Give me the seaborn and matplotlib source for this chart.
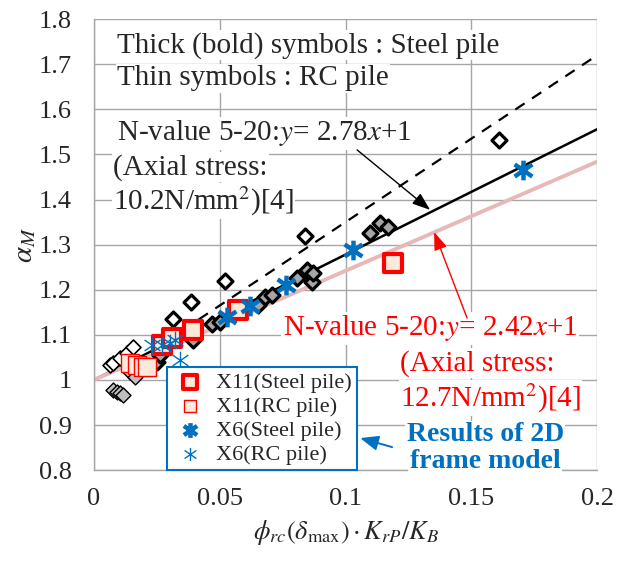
import matplotlib
matplotlib.use("Agg")
import matplotlib.pyplot as plt
from matplotlib.path import Path
import numpy as np
import seaborn as sns

# ---- test data (diamonds): thick edge = steel pile, thin edge = RC pile ----
steel_open_x = [0.0313, 0.0385, 0.0520, 0.0839, 0.1610]
steel_open_y = [1.136, 1.172, 1.219, 1.319, 1.532]

steel_grey_x = [0.0249, 0.0262, 0.0395, 0.0468, 0.0500, 0.0653, 0.0680, 0.0707,
                0.0806, 0.0846, 0.0866, 0.0872, 0.1097, 0.1137, 0.1167]
steel_grey_y = [1.040, 1.055, 1.088, 1.125, 1.129, 1.166, 1.184, 1.188,
                1.227, 1.243, 1.218, 1.236, 1.325, 1.349, 1.340]

rc_open_x = [0.0065, 0.0077, 0.0105, 0.0130, 0.0156]
rc_open_y = [1.033, 1.037, 1.048, 1.060, 1.073]

rc_grey_x = [0.0077, 0.0090, 0.0103, 0.0117, 0.0143, 0.0163]
rc_grey_y = [0.977, 0.974, 0.971, 0.967, 1.018, 1.007]

# ---- 2D frame model results ----
x11_steel_x = [0.0270, 0.0310, 0.0395, 0.0574, 0.1190]
x11_steel_y = [1.077, 1.094, 1.110, 1.155, 1.260]

x11_rc_x = [0.0143, 0.0170, 0.0196, 0.0210]
x11_rc_y = [1.037, 1.033, 1.029, 1.029]

x6_steel_x = [0.0530, 0.0620, 0.0763, 0.1031, 0.1707]
x6_steel_y = [1.140, 1.163, 1.210, 1.288, 1.465]

x6_rc_x = [0.0229, 0.0269, 0.0302, 0.0322, 0.0342]
x6_rc_y = [1.077, 1.077, 1.081, 1.088, 1.044]

# ---- straight lines y = slope*x + intercept over [x_start, x_end] ----
line_slopes = [3.70, 2.78, 2.42]
line_intercepts = [0.98, 1.0, 1.0]
line_x_start = [0.035, 0.0, 0.0]
line_x_end = [0.2, 0.2, 0.2]

x_ticks = [0, 0.05, 0.1, 0.15, 0.2]
x_tick_labels = ["0", "0.05", "0.1", "0.15", "0.2"]
y_ticks = [0.8, 0.9, 1.0, 1.1, 1.2, 1.3, 1.4, 1.5, 1.6, 1.7, 1.8]
y_tick_labels = ["0.8", "0.9", "1", "1.1", "1.2", "1.3", "1.4", "1.5", "1.6", "1.7", "1.8"]

sns.set_style("white")
plt.rcParams["font.family"] = ["Liberation Serif", "DejaVu Serif"]
plt.rcParams["mathtext.fontset"] = "stix"

RED = "#FF0000"
PEACH = "#FDE9D9"
BLUE = "#0070C0"
PINK = "#E6B9B8"
GRID = "#A6A6A6"

fig = plt.figure(figsize=(6.26, 5.63), dpi=100)
ax = fig.add_axes([0.150, 0.165, 0.804, 0.801])

# asterisk marker: vertical stroke plus an X
ast = Path([(0, -1), (0, 1), (-0.9, -0.62), (0.9, 0.62), (-0.9, 0.62), (0.9, -0.62)],
           [Path.MOVETO, Path.LINETO, Path.MOVETO, Path.LINETO, Path.MOVETO, Path.LINETO])

# lines
styles = [dict(color="black", lw=1.6, ls=(0, (5, 4))),
          dict(color="black", lw=1.8, ls="-"),
          dict(color=PINK, lw=2.8, ls="-")]
for st, a, b, x0, x1 in zip(styles, line_slopes, line_intercepts, line_x_start, line_x_end):
    xs = np.array([x0, x1])
    sns.lineplot(x=xs, y=a * xs + b, ax=ax, zorder=2, **st)

# diamonds
sns.scatterplot(x=rc_grey_x, y=rc_grey_y, ax=ax, marker="D", s=58, color="#BFBFBF",
                edgecolor="black", linewidth=1.0, zorder=3, legend=False)
sns.scatterplot(x=rc_open_x, y=rc_open_y, ax=ax, marker="D", s=58, color="white",
                edgecolor="black", linewidth=1.2, zorder=3, legend=False)
sns.scatterplot(x=steel_grey_x, y=steel_grey_y, ax=ax, marker="D", s=58, color="#A6A6A6",
                edgecolor="black", linewidth=2.3, zorder=3, legend=False)
sns.scatterplot(x=steel_open_x, y=steel_open_y, ax=ax, marker="D", s=58, color="white",
                edgecolor="black", linewidth=2.3, zorder=3, legend=False)

# frame model results
sns.scatterplot(x=x11_rc_x, y=x11_rc_y, ax=ax, marker="s", s=150, color=PEACH,
                edgecolor=RED, linewidth=1.0, zorder=4, label="X11(RC pile)")
sns.scatterplot(x=x11_steel_x, y=x11_steel_y, ax=ax, marker="s", s=165, color=PEACH,
                edgecolor=RED, linewidth=3.0, zorder=4, label="X11(Steel pile)")
sns.scatterplot(x=x6_steel_x, y=x6_steel_y, ax=ax, marker=ast, s=200, color=BLUE,
                edgecolor=BLUE, linewidth=3.2, zorder=5, label="X6(Steel pile)")
sns.scatterplot(x=x6_rc_x, y=x6_rc_y, ax=ax, marker=ast, s=160, color=BLUE,
                edgecolor=BLUE, linewidth=1.0, zorder=5, label="X6(RC pile)")

ax.set_xlim(0, 0.2)
ax.set_ylim(0.8, 1.8)
ax.set_xticks(x_ticks)
ax.set_xticklabels(x_tick_labels)
ax.set_yticks(y_ticks)
ax.set_yticklabels(y_tick_labels)
ax.grid(True, color=GRID, lw=1.0)
ax.set_axisbelow(True)
for s in ["top", "right"]:
    ax.spines[s].set_visible(False)
for s in ["left", "bottom"]:
    ax.spines[s].set_color(GRID)
    ax.spines[s].set_linewidth(1.0)
ax.tick_params(axis="both", direction="out", length=5, width=1, color=GRID,
               labelsize=19)
ax.tick_params(axis="y", pad=11)
ax.tick_params(axis="x", pad=8)

ax.set_xlabel(r"$\phi_{rc}(\delta_{\mathrm{max}})\cdot K_{rP}/K_B$", fontsize=19, labelpad=6)
ax.set_ylabel(r"$\alpha_M$", fontsize=21, labelpad=0)

# legend
handles, labels = ax.get_legend_handles_labels()
order = ["X11(Steel pile)", "X11(RC pile)", "X6(Steel pile)", "X6(RC pile)"]
hmap = dict(zip(labels, handles))
leg = ax.legend([hmap[o] for o in order], order, loc="lower left",
                bbox_to_anchor=(0.145, 0.0), borderaxespad=0, fontsize=16,
                frameon=True, fancybox=False, edgecolor=BLUE, framealpha=1,
                labelspacing=0.15, handletextpad=0.35, borderpad=0.25,
                handlelength=1.6, markerscale=0.75)
leg.get_frame().set_linewidth(1.5)
leg.set_zorder(6)

wb = dict(facecolor="white", edgecolor="none", pad=1.0)
tk = dict(fontsize=21, va="center", ha="left", zorder=6, bbox=wb)
ax.text(0.0092, 1.742, "Thick (bold) symbols : Steel pile", **tk)
ax.text(0.0092, 1.669, "Thin symbols : RC pile", **tk)
ax.text(0.0092, 1.547, r"N-value 5-20:$y$= 2.78$x$+1", **tk)
ax.text(0.0076, 1.472, "(Axial stress:", **tk)
ax.text(0.0076, 1.396, r"10.2N/mm$^2$)[4]", **tk)

ax.text(0.0751, 1.115, r"N-value 5-20:$y$= 2.42$x$+1", color=RED, **tk)
ax.text(0.1217, 1.037, "(Axial stress:", color=RED, **tk)
ax.text(0.1217, 0.960, r"12.7N/mm$^2$)[4]", color=RED, **tk)

ax.text(0.1555, 0.879, "Results of 2D", color=BLUE, fontsize=20, fontweight="bold",
        ha="center", va="center", zorder=6, bbox=wb)
ax.text(0.1555, 0.818, "frame model", color=BLUE, fontsize=20, fontweight="bold",
        ha="center", va="center", zorder=6, bbox=wb)

# arrows
ax.annotate("", xy=(0.1336, 1.377), xytext=(0.1046, 1.510), zorder=7,
            arrowprops=dict(arrowstyle="-|>,head_length=1.1,head_width=0.4",
                            color="black", lw=1.0, shrinkA=0, shrinkB=0))
ax.annotate("", xy=(0.1352, 1.328), xytext=(0.1483, 1.137), zorder=7,
            arrowprops=dict(arrowstyle="-|>,head_length=1.1,head_width=0.4",
                            color=RED, lw=1.0, shrinkA=0, shrinkB=0))
ax.annotate("", xy=(0.1058, 0.871), xytext=(0.1185, 0.851), zorder=7,
            arrowprops=dict(arrowstyle="-|>,head_length=1.1,head_width=0.45",
                            color=BLUE, lw=1.4, shrinkA=0, shrinkB=0))

fig.savefig("out.png", dpi=100)
